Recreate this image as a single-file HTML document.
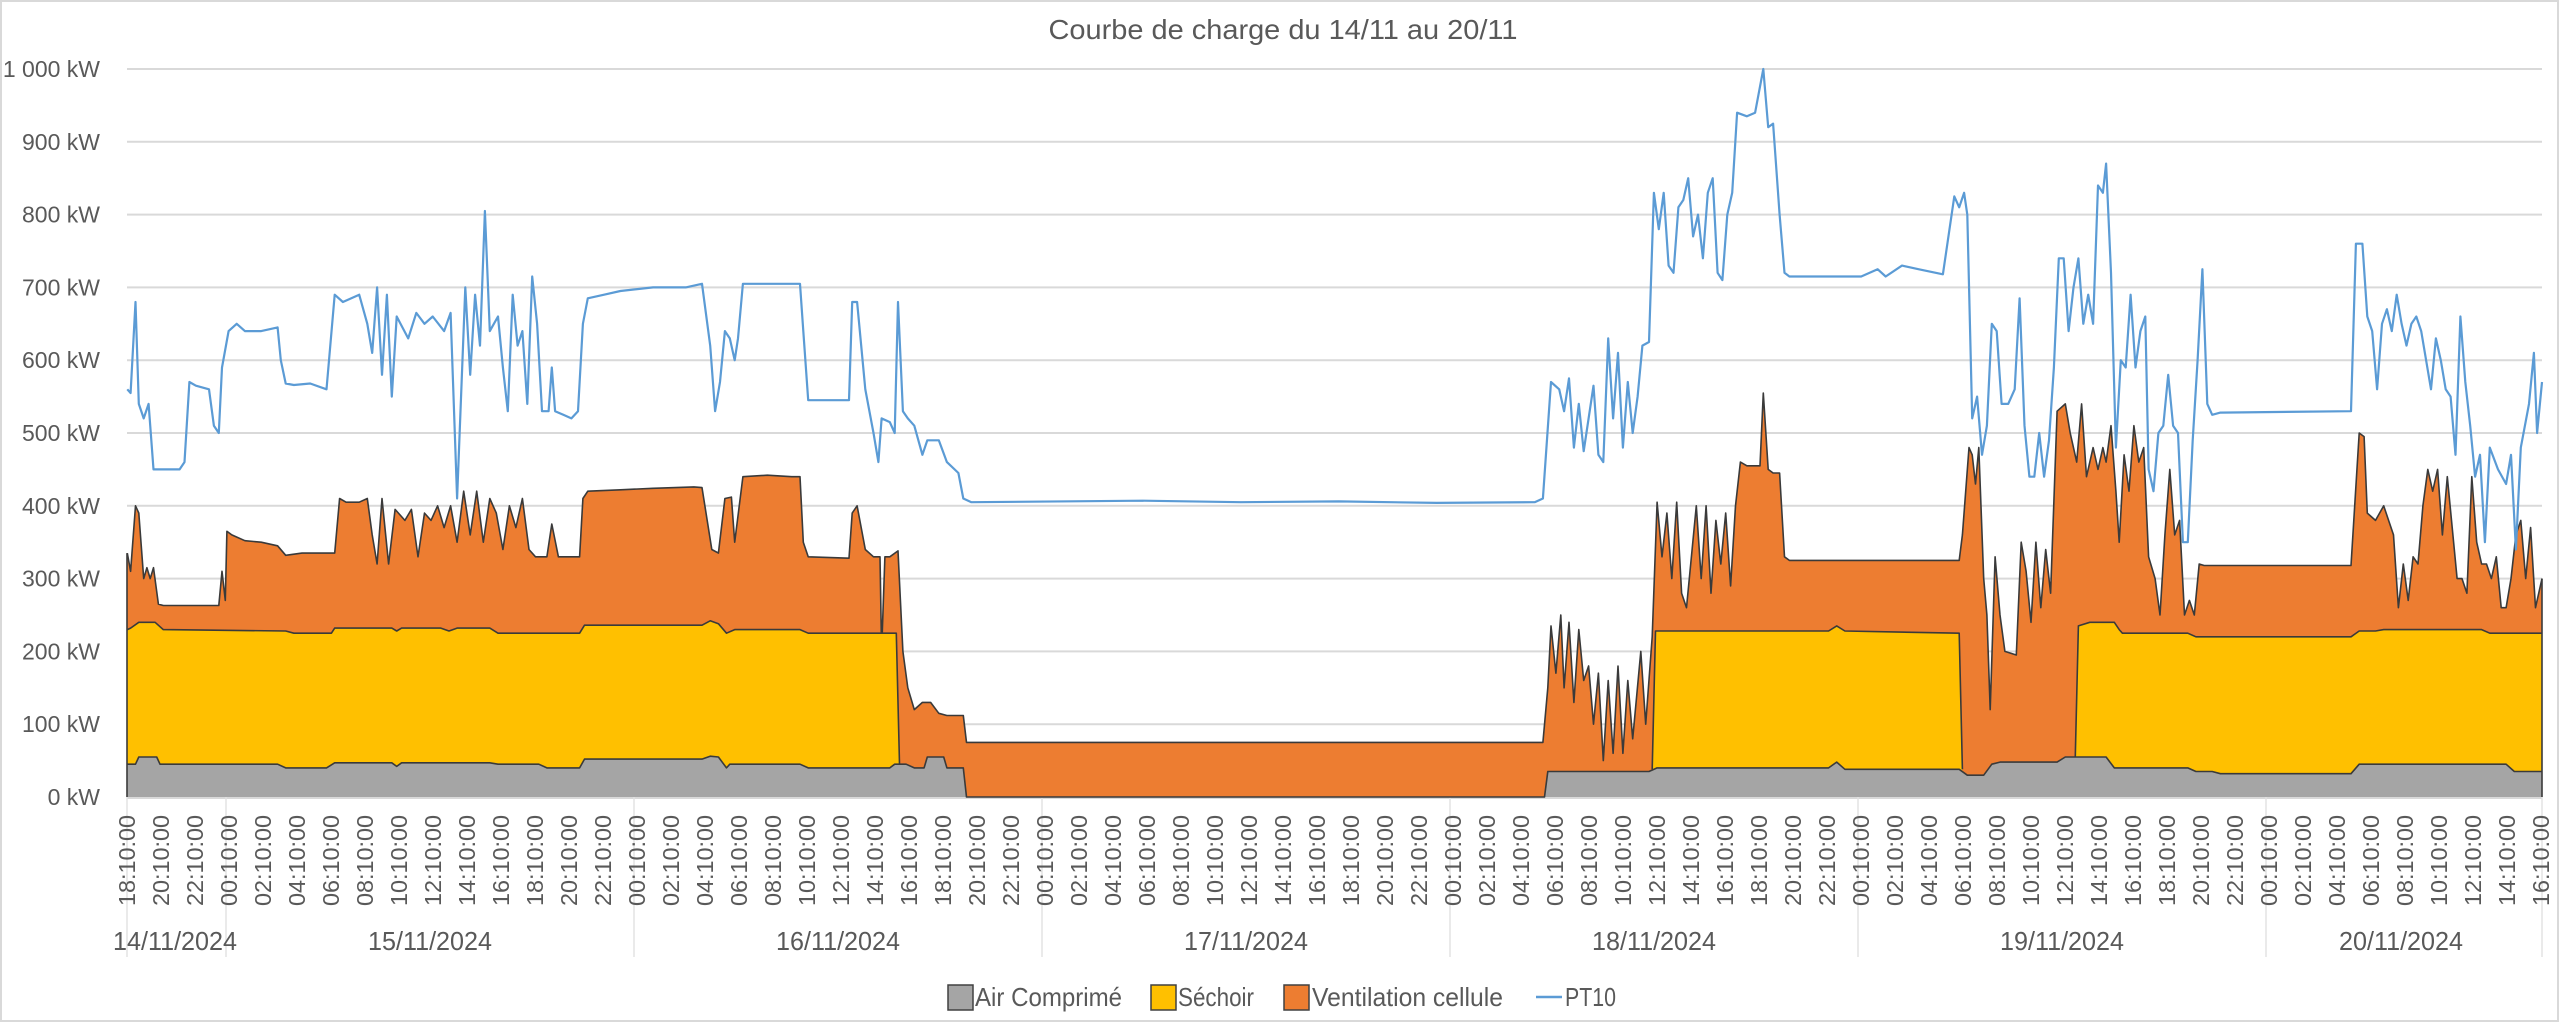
<!DOCTYPE html>
<html><head><meta charset="utf-8"><style>
html,body{margin:0;padding:0;background:#fff;}
svg{display:block;font-family:"Liberation Sans",sans-serif;}
</style></head><body>
<svg id="c" width="2560" height="1023" xmlns="http://www.w3.org/2000/svg">
<rect x="1" y="1" width="2557" height="1020" fill="#fff" stroke="#d9d9d9" stroke-width="2"/>
<text x="1283" y="39" text-anchor="middle" font-size="28" fill="#595959" textLength="469" lengthAdjust="spacingAndGlyphs">Courbe de charge du 14/11 au 20/11</text>
<g id="grid"></g>
<g id="areas"></g>
<g id="labels"></g>
<g font-size="26" fill="#595959">
<rect x="948" y="985" width="25" height="25" fill="#a5a5a5" stroke="#404040" stroke-width="1.5"/>
<text x="975" y="1006" textLength="147" lengthAdjust="spacingAndGlyphs">Air Comprimé</text>
<rect x="1151" y="985" width="25" height="25" fill="#ffc000" stroke="#404040" stroke-width="1.5"/>
<text x="1178" y="1006" textLength="76" lengthAdjust="spacingAndGlyphs">Séchoir</text>
<rect x="1284" y="985" width="25" height="25" fill="#ed7d31" stroke="#404040" stroke-width="1.5"/>
<text x="1312" y="1006" textLength="191" lengthAdjust="spacingAndGlyphs">Ventilation cellule</text>
<line x1="1536" y1="997" x2="1562" y2="997" stroke="#5b9bd5" stroke-width="2.5"/>
<text x="1565" y="1006" textLength="51" lengthAdjust="spacingAndGlyphs">PT10</text>
</g>
</svg>
<script>
const S=2560/1568, X0=127, Y0=797, K=0.728;
const fx=dx=>(dx*S).toFixed(1), fy=v=>(Y0-v*K).toFixed(1);
const ns="http://www.w3.org/2000/svg";
function el(p,t,a,txt){const e=document.createElementNS(ns,t);for(const k in a)e.setAttribute(k,a[k]);if(txt!==undefined)e.textContent=txt;p.appendChild(e);return e;}
const grid=document.getElementById('grid'),areas=document.getElementById('areas'),labels=document.getElementById('labels');
for(let v=100;v<=1000;v+=100){el(grid,'line',{x1:X0,x2:2542,y1:fy(v),y2:fy(v),stroke:'#d9d9d9','stroke-width':2});}
for(let v=0;v<=1000;v+=100){el(labels,'text',{x:100,y:(Y0-v*K+8).toFixed(1),'text-anchor':'end','font-size':23,fill:'#595959'},(v==1000?'1 000':v)+' kW');}
function P(s){const a=s.trim().split(/[\s,]+/).map(Number);const r=[];for(let i=0;i<a.length;i+=2)r.push([a[i],a[i+1]]);return r;}
const total=P(`78 335 80 310 83 400 85 390 88 300 90 315 92 300 94 315 97 265 100 263 134 263 136 310 138 270 139 365 142 360 150 352 160 350 170 345 175 332 185 335 205 335 208 410 212 405 220 405 225 410 228 360 231 320 234 410 238 320 242 395 248 380 252 395 256 330 260 390 264 380 268 400 272 370 276 400 280 350 284 420 288 360 292 420 296 350 300 410 304 390 308 340 312 400 316 370 320 410 324 340 328 330 332 330 335 330 338 375 342 330 350 330 355 330 357 410 360 420 380 422 400 424 425 426 430 425 436 340 440 335 444 410 448 412 450 350 455 440 470 442 485 440 490 440 492 350 495 330 520 328 522 390 525 400 530 340 535 330 539 330 540 200 542 330 545 330 550 338 553 200 556 150 560 120 565 130 570 130 575 115 580 112 590 112 592 75 945 75 948 150 950 235 953 170 956 250 958 150 961 240 964 130 967 230 970 160 973 180 976 100 979 170 982 50 985 160 988 60 991 180 994 60 997 160 1000 80 1005 200 1008 100 1012 220 1015 405 1018 330 1021 390 1024 300 1027 405 1030 280 1033 260 1036 330 1039 400 1042 300 1045 400 1048 280 1051 380 1054 320 1057 390 1060 290 1063 400 1066 460 1070 455 1078 455 1080 555 1083 450 1086 445 1090 445 1093 330 1096 325 1200 325 1202 360 1206 480 1208 470 1210 430 1212 480 1215 300 1217 250 1219 120 1222 330 1225 250 1228 200 1235 195 1238 350 1241 310 1244 240 1247 350 1250 260 1253 340 1256 280 1260 530 1265 540 1268 500 1272 460 1275 540 1278 440 1282 480 1285 450 1288 480 1290 460 1293 510 1296 420 1298 350 1301 470 1304 420 1307 510 1310 460 1313 480 1316 330 1320 300 1323 250 1326 360 1329 450 1332 360 1335 380 1338 250 1341 270 1344 250 1347 320 1350 318 1440 318 1445 500 1448 495 1450 390 1455 380 1460 400 1463 380 1466 360 1469 260 1472 320 1475 270 1478 330 1481 320 1484 400 1487 450 1490 420 1493 450 1496 360 1499 440 1502 370 1505 300 1508 300 1511 280 1514 440 1517 350 1520 320 1523 320 1526 300 1529 330 1532 260 1535 260 1538 300 1541 360 1544 380 1547 300 1550 370 1553 260 1557 300`);
const yel=[P(`78 230 80 232 85 240 95 240 100 230 175 228 180 225 203 225 205 232 240 232 243 228 246 232 270 232 275 228 280 232 300 232 305 225 330 225 335 225 355 225 358 236 430 236 435 242 440 238 445 225 450 230 490 230 495 225 545 225 549 225 551 40`),P(`1012 38 1014 228 1120 228 1125 235 1130 228 1200 225 1202 38`),P(`1271 45 1273 235 1280 240 1295 240 1298 230 1300 225 1340 225 1345 220 1440 220 1445 228 1455 228 1460 230 1520 230 1525 225 1557 225`)];
const gray=P(`78 45 83 45 85 55 96 55 98 45 170 45 175 40 200 40 205 47 240 47 243 42 246 47 300 47 305 45 330 45 335 40 355 40 358 52 430 52 435 56 440 55 445 40 447 45 490 45 495 40 545 40 548 45 555 45 560 40 566 40 568 55 578 55 580 40 590 40 592 0 946 0 948 35 1010 35 1015 40 1120 40 1125 48 1130 38 1200 38 1205 30 1215 30 1220 45 1225 48 1260 48 1265 55 1290 55 1295 40 1340 40 1345 35 1355 35 1360 32 1440 32 1445 45 1520 45 1525 45 1535 45 1540 35 1557 35`);
const pt=P(`78 560 80 555 83 680 85 540 88 520 91 540 94 450 97 450 110 450 113 460 116 570 120 565 128 560 131 510 134 500 136 590 140 640 145 650 150 640 160 640 170 645 172 600 175 568 180 566 190 568 200 560 205 690 210 680 220 690 225 650 228 610 231 700 234 580 237 690 240 550 243 660 250 630 255 665 260 650 265 660 272 640 276 665 280 410 285 700 288 580 291 690 294 620 297 805 300 640 305 660 308 590 311 530 314 690 317 620 320 640 323 540 326 715 329 650 332 530 336 530 338 590 340 530 345 525 350 520 354 530 357 650 360 685 370 690 380 695 400 700 420 700 430 705 435 620 438 530 441 570 444 640 447 630 450 600 452 630 455 705 490 705 492 640 495 545 520 545 522 680 525 680 530 560 535 500 538 460 540 520 545 515 548 500 550 680 553 530 556 520 560 510 565 470 568 490 575 490 580 460 587 445 590 410 595 405 700 407 760 405 820 406 880 404 940 405 945 410 950 570 955 560 958 530 961 575 964 480 967 540 970 475 973 520 976 565 979 470 982 460 985 630 988 520 991 610 994 480 997 570 1000 500 1003 550 1006 620 1010 625 1013 830 1016 780 1019 830 1022 730 1025 720 1028 810 1031 820 1034 850 1037 770 1040 800 1043 740 1046 830 1049 850 1052 720 1055 710 1058 800 1061 830 1064 940 1070 935 1075 940 1080 1000 1083 920 1086 925 1090 800 1093 720 1096 715 1140 715 1150 725 1155 715 1165 730 1175 725 1190 718 1197 825 1200 810 1203 830 1205 800 1208 520 1211 550 1214 470 1217 510 1220 650 1223 640 1226 540 1230 540 1234 560 1237 685 1240 510 1243 440 1246 440 1249 500 1252 440 1255 490 1258 590 1261 740 1264 740 1267 640 1270 700 1273 740 1276 650 1279 690 1282 650 1285 840 1288 830 1290 870 1293 720 1296 480 1299 600 1302 590 1305 690 1308 590 1311 640 1314 660 1316 450 1319 420 1322 500 1325 510 1328 580 1331 510 1334 500 1337 350 1340 350 1343 490 1346 600 1349 725 1352 540 1355 525 1360 528 1440 530 1443 760 1447 760 1450 660 1453 640 1456 560 1459 650 1462 670 1465 640 1468 690 1471 650 1474 620 1477 650 1480 660 1483 640 1486 600 1489 560 1492 630 1495 600 1498 560 1501 550 1504 470 1507 660 1510 570 1513 510 1516 440 1519 470 1522 350 1525 480 1530 450 1535 430 1538 470 1541 340 1544 480 1549 540 1552 610 1554 500 1557 570`);
function line(a){return a.map((p,i)=>(i?'L':'M')+fx(p[0])+' '+fy(p[1])).join(' ');}
function area(a,fill){const d=line(a)+' L'+fx(a[a.length-1][0])+' '+Y0+' L'+fx(a[0][0])+' '+Y0+' Z';el(areas,'path',{d:d,fill:fill});el(areas,'path',{d:line(a),fill:'none',stroke:'#3a3a3a','stroke-width':1.6,'stroke-linejoin':'round'});}
area(total,'#ed7d31');
yel.forEach(s=>area(s,'#ffc000'));
area(gray,'#a5a5a5');
el(areas,'line',{x1:X0,x2:X0,y1:fy(335),y2:Y0,stroke:'#3a3a3a','stroke-width':1.6});
el(areas,'line',{x1:2542,x2:2542,y1:fy(300),y2:Y0,stroke:'#3a3a3a','stroke-width':1.6});
el(areas,'path',{d:line(pt),fill:'none',stroke:'#5b9bd5','stroke-width':2.2,'stroke-linejoin':'round'});
el(grid,'line',{x1:X0,x2:2542,y1:Y0+1,y2:Y0+1,stroke:'#d9d9d9','stroke-width':2});
[127,226,634,1042,1450,1858,2266,2542].forEach(x=>el(grid,'line',{x1:x,x2:x,y1:Y0,y2:957,stroke:'#e3e3e3','stroke-width':1.5}));
for(let i=0;i<72;i++){const h=(18+2*i)%24;const s=(h<10?'0':'')+h+':10:00';const x=127+i*34;
el(labels,'text',{x:0,y:0,transform:`translate(${x+8},815) rotate(-90)`,'text-anchor':'end','font-size':23,fill:'#595959',textLength:91,lengthAdjust:'spacingAndGlyphs'},s);}
[[175,'14/11/2024'],[430,'15/11/2024'],[838,'16/11/2024'],[1246,'17/11/2024'],[1654,'18/11/2024'],[2062,'19/11/2024'],[2401,'20/11/2024']].forEach(d=>el(labels,'text',{x:d[0],y:950,'text-anchor':'middle','font-size':26,fill:'#595959',textLength:124,lengthAdjust:'spacingAndGlyphs'},d[1]));
</script>
</body></html>
